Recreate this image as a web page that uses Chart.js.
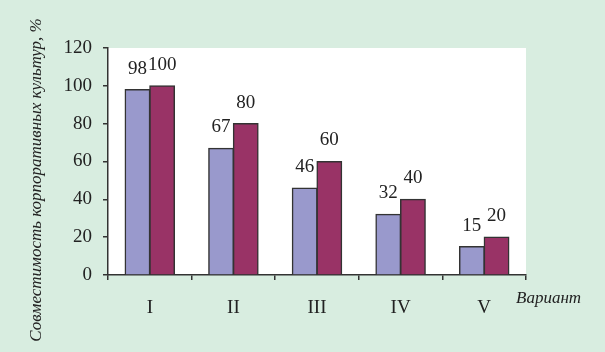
<!DOCTYPE html>
<html>
<head>
<meta charset="utf-8">
<script src="https://cdn.jsdelivr.net/npm/chart.js@4/dist/chart.umd.min.js"></script>
<style>
  html, body { margin: 0; padding: 0; background: #d8ede0; }
  #wrap { width: 605px; height: 352px; }
  .pre { font-family: 'Liberation Serif'; position: absolute; left: -999px; }
</style>
</head>
<body>
<span class="pre">0</span><span class="pre" style="font-style:italic">В</span>
<div id="wrap"><canvas id="chart" width="605" height="352"></canvas></div>
<script>
// данные
const variants = ["I", "II", "III", "IV", "V"];
const seriesA = [98, 67, 46, 32, 15];
const seriesB = [100, 80, 60, 40, 20];
const yTicks = [0, 20, 40, 60, 80, 100, 120];

const yTitle = "Совместимость корпоративных культур, %";
const xTitle = "Вариант";
const serif = "'Liberation Serif', 'Times New Roman', serif";

// белая область графика + подписи
const decor = {
    id: "decor",
    beforeDraw(chart) {
        const { ctx, chartArea: a } = chart;
        ctx.save();
        ctx.fillStyle = "#ffffff";
        ctx.fillRect(a.left, a.top, a.right - a.left, a.bottom - a.top);
        ctx.restore();
    },
    afterDatasetsDraw(chart) {
        const { ctx, chartArea: a } = chart;
        ctx.save();
        ctx.fillStyle = "#222";
        ctx.font = "19px " + serif;
        ctx.textAlign = "center";
        ctx.textBaseline = "middle";
        chart.data.datasets.forEach((ds, i) => {
            chart.getDatasetMeta(i).data.forEach((bar, j) => {
                ctx.fillText(String(ds.data[j]), bar.x, bar.y - 21);
            });
        });
        // заголовок оси Y
        ctx.font = "italic 17px " + serif;
        ctx.translate(37, 180);
        ctx.rotate(-Math.PI / 2);
        ctx.fillText(yTitle, 0, 0);
        ctx.restore();
        ctx.save();
        ctx.fillStyle = "#222";
        ctx.font = "italic 17px " + serif;
        ctx.textAlign = "left";
        ctx.textBaseline = "middle";
        ctx.fillText(xTitle, a.right - 10, a.bottom + 24);
        ctx.restore();
    },
};

function draw() {
    new Chart(document.getElementById("chart"), {
        type: "bar",
        data: {
            labels: variants,
            datasets: [
                { data: seriesA, backgroundColor: "#9999cc", borderColor: "#333", borderWidth: 1.5, inflateAmount: 0.6 },
                { data: seriesB, backgroundColor: "#993366", borderColor: "#333", borderWidth: 1.5, inflateAmount: 0.6 },
            ],
        },
        options: {
            responsive: false,
            animation: false,
            events: [],
            layout: { padding: { left: 58, right: 79, top: 48, bottom: 32 } },
            plugins: { legend: { display: false }, tooltip: { enabled: false } },
            datasets: { bar: { categoryPercentage: 0.59, barPercentage: 1 } },
            scales: {
                x: {
                    afterFit: (s) => { s.height = 45; },
                    grid: { offset: true, drawOnChartArea: false, drawTicks: true, tickLength: 5, color: "#333", lineWidth: 1.5 },
                    border: { color: "#333", width: 1.5 },
                    ticks: { color: "#222", font: { family: serif, size: 19 }, padding: 17 },
                },
                y: {
                    min: 0,
                    max: 120,
                    afterFit: (s) => { s.width = 50; },
                    afterBuildTicks: (s) => { s.ticks = yTicks.map((v) => ({ value: v })); },
                    grid: { drawOnChartArea: false, drawTicks: true, tickLength: 5, color: "#333", lineWidth: 1.5 },
                    border: { color: "#333", width: 1.5 },
                    ticks: { color: "#222", font: { family: serif, size: 19 }, padding: 11 },
                },
            },
        },
        plugins: [decor],
    });
}

Promise.all([
    document.fonts.load("19px 'Liberation Serif'"),
    document.fonts.load("italic 17px 'Liberation Serif'"),
]).then(draw, draw);
</script>
</body>
</html>
